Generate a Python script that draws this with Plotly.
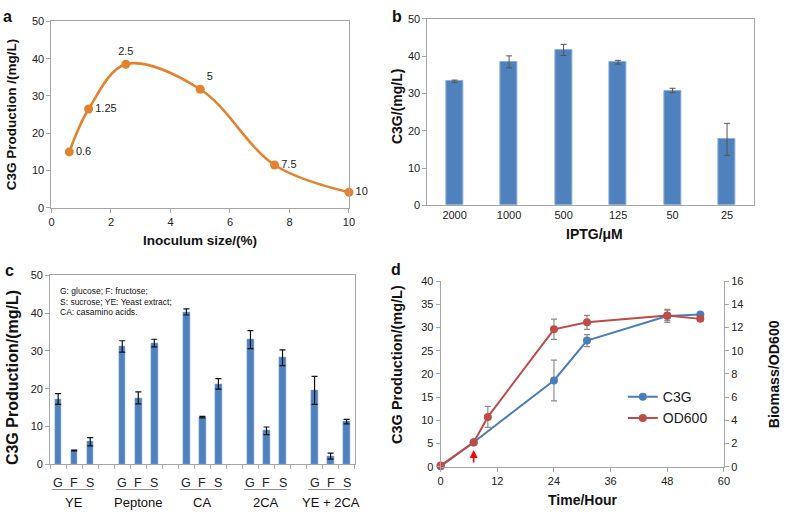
import plotly.graph_objects as go

W, H = 785, 518

# ---------------- data ----------------
# panel a
inoculum = [0.6, 1.25, 2.5, 5, 7.5, 10]
inoc_c3g = [15.0, 26.5, 38.5, 31.8, 11.5, 4.2]
inoc_labels = ["0.6", "1.25", "2.5", "5", "7.5", "10"]

# panel b
iptg = ["2000", "1000", "500", "125", "50", "25"]
iptg_c3g = [33.3, 38.5, 41.7, 38.4, 30.8, 17.7]
iptg_err = [0.3, 1.6, 1.5, 0.5, 0.6, 4.3]

# panel c
groups = ["YE", "Peptone", "CA", "2CA", "YE + 2CA"]
sugars = ["G", "F", "S"]
media_vals = [
    [17.3, 3.7, 6.0],
    [31.2, 17.6, 32.1],
    [40.3, 12.5, 21.3],
    [33.0, 8.9, 28.2],
    [19.6, 2.2, 11.3],
]
media_err = [
    [1.4, 0.1, 1.1],
    [1.5, 1.6, 1.0],
    [0.8, 0.2, 1.4],
    [2.4, 1.0, 2.1],
    [3.7, 0.8, 0.6],
]
note_lines = ["G: glucose; F: fructose;", "S: sucrose; YE: Yeast extract;", "CA: casamino acids."]

# panel d
t_c3g = [0, 7, 24, 31, 48, 55]
c3g = [0.1, 5.3, 18.6, 27.2, 32.5, 32.8]
c3g_err = [0, 0, 4.4, 1.3, 1.4, 0.4]
t_od = [0, 7, 10, 24, 31, 48, 55]
od600 = [0.1, 2.1, 4.3, 11.85, 12.45, 13.05, 12.75]
od_err = [0, 0, 0.9, 0.87, 0.6, 0.45, 0.2]
arrow_hour = 7

# ---------------- style ----------------
FONT = "Liberation Sans, Arial, sans-serif"
AX = "#A6A6A6"
TXT = "#222222"
ORANGE = "#E3832F"
BLUE = "#4F81BD"
LBLUE = "#4A7EBB"
RED = "#BE4B48"


def px_x(a, b):
    return [a / W, b / W]


def px_y(top, bottom):
    return [1 - bottom / H, 1 - top / H]


def axis(**kw):
    d = dict(showline=True, linecolor=AX, linewidth=1, showgrid=False, zeroline=False,
             ticks="outside", ticklen=4, tickcolor=AX, tickfont=dict(size=11, color=TXT, family=FONT))
    d.update(kw)
    return d


fig = go.Figure()

# ---- panel a ----
fig.add_trace(go.Scatter(
    x=inoculum, y=inoc_c3g, mode="lines+markers+text", xaxis="x", yaxis="y",
    line=dict(color=ORANGE, width=2.6, shape="spline", smoothing=1.0),
    marker=dict(color=ORANGE, size=9),
    text=inoc_labels,
    textposition=["middle right", "middle right", "top center", "top right", "middle right", "middle right"],
    textfont=dict(size=11, color=TXT, family=FONT),
    cliponaxis=False, showlegend=False,
))

# ---- panel b ----
fig.add_trace(go.Bar(
    x=iptg, y=iptg_c3g, xaxis="x2", yaxis="y2", width=0.31,
    marker=dict(color=BLUE, line=dict(color="#8EAFD8", width=1)),
    error_y=dict(type="data", array=iptg_err, color="#555555", thickness=1, width=3),
    showlegend=False,
))

# ---- panel c ----
slots, vals, errs = [], [], []
for g, (vrow, erow) in enumerate(zip(media_vals, media_err)):
    for s in range(len(sugars)):
        slots.append(4 * g + s)
        vals.append(vrow[s])
        errs.append(erow[s])
fig.add_trace(go.Bar(
    x=slots, y=vals, xaxis="x3", yaxis="y3", width=0.42,
    marker=dict(color=BLUE, line=dict(color="#7FA3D2", width=0.5)),
    error_y=dict(type="data", array=errs, color="#111111", thickness=1.2, width=3),
    showlegend=False,
))

# ---- panel d ----
fig.add_trace(go.Scatter(
    x=t_c3g, y=c3g, xaxis="x4", yaxis="y4", mode="lines+markers", name="C3G",
    line=dict(color=LBLUE, width=2), marker=dict(color=LBLUE, size=8),
    error_y=dict(type="data", array=c3g_err, color="#8C8C8C", thickness=1.2, width=3),
    cliponaxis=False,
))
fig.add_trace(go.Scatter(
    x=t_od, y=od600, xaxis="x4", yaxis="y5", mode="lines+markers", name="OD600",
    line=dict(color=RED, width=2), marker=dict(color=RED, size=8),
    error_y=dict(type="data", array=od_err, color="#8C8C8C", thickness=1.2, width=3),
    cliponaxis=False,
))

n_slots = 4 * len(groups) - 1
fig.update_layout(
    width=W, height=H, margin=dict(l=0, r=0, t=0, b=0),
    paper_bgcolor="white", plot_bgcolor="white",
    font=dict(family=FONT, color=TXT),
    bargap=0,
    xaxis=axis(domain=px_x(49, 350), range=[0, 10], dtick=2, mirror=True, anchor="y"),
    yaxis=axis(domain=px_y(15.7, 206.7), range=[0, 50], dtick=10, mirror=True, anchor="x"),
    xaxis2=axis(domain=px_x(429.3, 760), type="category", ticks="", mirror=True, anchor="y2"),
    yaxis2=axis(domain=px_y(13.3, 204), range=[0, 50], dtick=10, mirror=True, anchor="x2"),
    xaxis3=axis(domain=px_x(47.7, 355.7), range=[-0.5, n_slots - 0.5], anchor="y3", mirror=True,
                tickvals=[i - 0.5 for i in range(n_slots + 1)], showticklabels=False),
    yaxis3=axis(domain=px_y(275.7, 469.3), range=[0, 50], dtick=10, mirror=True, anchor="x3"),
    xaxis4=axis(domain=px_x(442.7, 729.3), range=[0, 60], dtick=12, anchor="y4"),
    yaxis4=axis(domain=px_y(281.7, 471.7), range=[0, 40], dtick=5, anchor="x4"),
    yaxis5=axis(domain=px_y(281.7, 471.7), range=[0, 16], dtick=2, anchor="x4", overlaying="y4", side="right"),
    legend=dict(x=627 / W, y=1 - 384 / H, xanchor="left", yanchor="top", bgcolor="rgba(0,0,0,0)",
                font=dict(size=14, color=TXT, family=FONT), itemwidth=30),
)

ann = []


def txt(x, y, s, size=13.5, bold=True, angle=0, xanchor="center", yanchor="middle"):
    ann.append(dict(x=x / W, y=1 - y / H, xref="paper", yref="paper", text=f"<b>{s}</b>" if bold else s,
                    showarrow=False, textangle=angle, xanchor=xanchor, yanchor=yanchor,
                    font=dict(size=size, family=FONT, color="#111111")))


# panel labels
txt(5, 11, "a", size=16)
txt(399, 11, "b", size=16)
txt(7, 271, "c", size=16)
txt(398, 270, "d", size=16)
# axis titles
txt(9, 111, "C3G Production /(mg/L)", angle=-90)
txt(199, 240, "Inoculum size/(%)")
txt(398, 103, "C3G/(mg/L)", size=14, angle=-90)
txt(598, 233, "IPTG/μM", size=14)
txt(9, 380, "C3G Production/(mg/L)", size=16, angle=-90)
txt(398.5, 366.5, "C3G Production/(mg/L)", size=14.5, angle=-90)
txt(780, 377, "Biomass/OD600", size=14.2, angle=-90)
txt(587, 506, "Time/Hour", size=14)

# panel c note
for i, line in enumerate(note_lines):
    txt(56, 292 + i * 10.6, line, size=8.5, bold=False, xanchor="left")

# panel c group labels
shapes = []
for g, name in enumerate(groups):
    for s, sg in enumerate(sugars):
        ann.append(dict(x=4 * g + s, y=1 - 488 / H, xref="x3", yref="paper", text=sg, showarrow=False,
                        xanchor="center", yanchor="middle",
                        font=dict(size=12.5, family=FONT, color=TXT)))
    ann.append(dict(x=4 * g + 1, y=1 - 508 / H, xref="x3", yref="paper", text=name, showarrow=False,
                    xanchor="center", yanchor="middle",
                    font=dict(size=13, family=FONT, color="#111111")))
    shapes.append(dict(type="line", xref="x3", yref="paper", x0=4 * g - 0.4, x1=4 * g + 2.25,
                       y0=1 - 495 / H, y1=1 - 495 / H, line=dict(color="#8C8C8C", width=1)))

# red arrow in panel d
ann.append(dict(x=arrow_hour, y=3.6, xref="x4", yref="y4", ax=0, ay=14, text="", showarrow=True,
                arrowhead=2, arrowsize=1, arrowwidth=1.6, arrowcolor="#FF0000", standoff=0))

fig.update_layout(annotations=ann, shapes=shapes)
fig.write_html("out.html", config={"displayModeBar": False},
               post_script="document.body.style.margin='0';document.body.style.overflow='hidden';")
